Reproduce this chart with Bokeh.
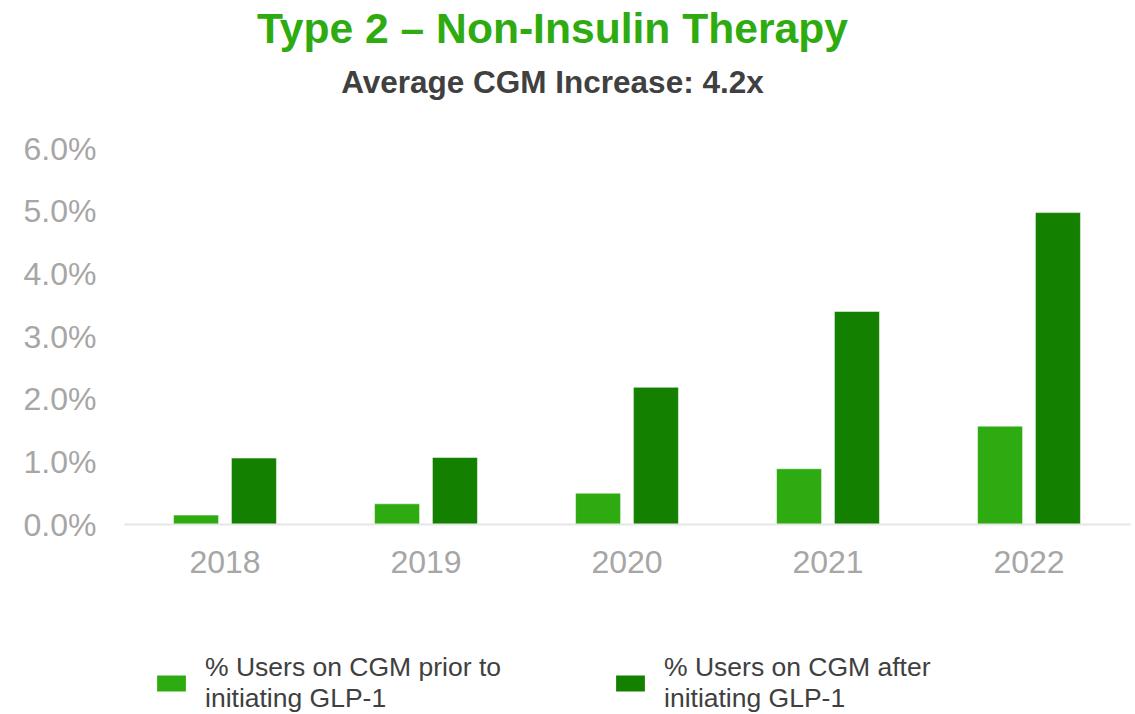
import numpy as np
from bokeh.plotting import figure
from bokeh.layouts import column
from bokeh.models import (Range1d, FixedTicker, PrintfTickFormatter, Label,
                          Legend, LegendItem, ColumnDataSource)
from bokeh.embed import file_html
from bokeh.resources import INLINE

# ---- data ----
categories = ["2018", "2019", "2020", "2021", "2022"]
prior_glp1 = [0.15, 0.33, 0.50, 0.89, 1.57]   # % users on CGM prior to GLP-1
after_glp1 = [1.06, 1.07, 2.19, 3.40, 4.98]   # % users on CGM after GLP-1
y_ticks = [0, 1, 2, 3, 4, 5, 6]
title_text = "Type 2 \u2013 Non-Insulin Therapy"
subtitle_text = "Average CGM Increase: 4.2x"
legend_labels = ["% Users on CGM prior to\ninitiating GLP-1",
                 "% Users on CGM after\ninitiating GLP-1"]

LIGHT = "#2EAB10"
DARK = "#138000"
FONT = "Liberation Sans"

idx = np.arange(len(categories))
src = ColumnDataSource(dict(
    x_prior=idx - 0.144, x_after=idx + 0.144,
    prior=prior_glp1, after=after_glp1))

# main chart: frame reaches the top of the figure so titles can live inside
p = figure(width=1135, height=600, output_backend="svg", toolbar_location=None,
           x_range=Range1d(-0.5, 4.505), y_range=Range1d(0, 8.366),
           min_border_left=124, min_border_right=5, min_border_top=0,
           min_border_bottom=76, outline_line_color=None, title=None)

r1 = p.vbar(x="x_prior", top="prior", width=0.224, source=src,
            fill_color=LIGHT, line_color="white", line_alpha=0.5, line_width=1)
r2 = p.vbar(x="x_after", top="after", width=0.224, source=src,
            fill_color=DARK, line_color="white", line_alpha=0.5, line_width=1)

p.xgrid.visible = False
p.ygrid.visible = False

# x axis
xa = p.xaxis[0]
xa.ticker = FixedTicker(ticks=list(idx))
xa.major_label_overrides = {int(i): c for i, c in zip(idx, categories)}
xa.axis_line_color = "#e6e6e6"
xa.axis_line_width = 2
xa.major_tick_line_color = None
xa.minor_tick_line_color = None
xa.major_label_text_font = FONT
xa.major_label_text_font_size = "32px"
xa.major_label_text_color = "#a6a6a6"
xa.major_label_standoff = 20

# y axis
ya = p.yaxis[0]
ya.ticker = FixedTicker(ticks=y_ticks)
ya.formatter = PrintfTickFormatter(format="%.1f%%")
ya.axis_line_color = None
ya.major_tick_line_color = None
ya.minor_tick_line_color = None
ya.major_label_text_font = FONT
ya.major_label_text_font_size = "32px"
ya.major_label_text_color = "#a6a6a6"
ya.major_label_standoff = 22

# titles
p.add_layout(Label(x=1.629, y=7.93, text=title_text, text_align="center",
                   text_baseline="alphabetic", text_font=FONT,
                   text_font_size="42.6px", text_font_style="bold",
                   text_color=LIGHT))
p.add_layout(Label(x=1.629, y=7.07, text=subtitle_text, text_align="center",
                   text_baseline="alphabetic", text_font=FONT,
                   text_font_size="31.5px", text_font_style="bold",
                   text_color="#404040"))

# legend strip
lg = figure(width=1135, height=114, output_backend="svg", toolbar_location=None,
            x_range=Range1d(0, 1135), y_range=Range1d(0, 114),
            x_axis_type=None, y_axis_type=None, min_border=0,
            outline_line_color=None)
lsrc = ColumnDataSource(dict(x=[-5000], top=[0]))
d1 = lg.vbar(x="x", top="top", width=1, source=lsrc, fill_color=LIGHT,
             line_color=None)
d2 = lg.vbar(x="x", top="top", width=1, source=lsrc, fill_color=DARK,
             line_color=None)
legend = Legend(items=[LegendItem(label=legend_labels[0], renderers=[d1]),
                       LegendItem(label=legend_labels[1], renderers=[d2])],
                orientation="horizontal", location=(29, 0),
                glyph_width=36, glyph_height=20, label_standoff=16,
                spacing=111, padding=0, margin=0,
                border_line_color=None, background_fill_alpha=0,
                label_text_font=FONT, label_text_font_size="26.5px",
                label_text_color="#404040")
lg.add_layout(legend, "center")

open("out.html", "w").write(file_html(column(p, lg, spacing=0), INLINE))
